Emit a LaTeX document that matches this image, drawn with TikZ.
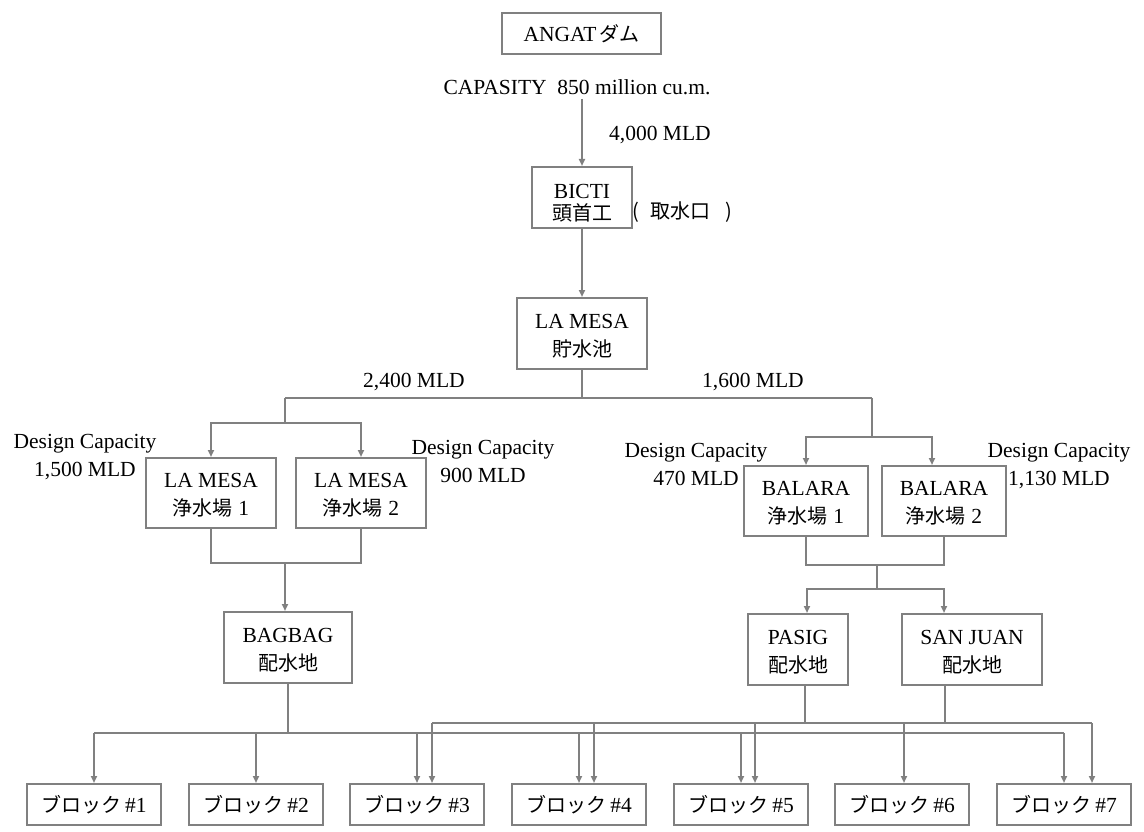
\documentclass[tikz,border=0pt]{standalone}
\usepackage{fontspec}
\setmainfont{Liberation Serif}
\newfontfamily\jpfont{Noto Sans CJK JP}
\newcommand{\jap}[1]{{\jpfont\fontsize{20}{28}\selectfont #1}}
\usetikzlibrary{arrows.meta}
\definecolor{lg}{RGB}{128,128,128}
\tikzset{
  txt/.style={font=\fontsize{21.5}{28}\selectfont, text=black, align=center},
  box/.style={txt, draw=lg, line width=2pt, inner sep=0pt},
  blk/.style={box, minimum width=134pt, minimum height=41pt},
  lbl/.style={txt, inner sep=0pt},
  ln/.style={draw=lg, line width=2pt},
  arr/.style={ln, -{Triangle[length=7pt,width=6pt]}},
}
\begin{document}
\begin{tikzpicture}[x=1pt,y=-1pt]
\useasboundingbox (0,0) rectangle (1144,832);

% ---- nodes
\node[box,minimum width=159pt,minimum height=41pt] (angat) at (581.5,33.5) {ANGAT\kern3pt\jap{ダム}};
\node[lbl] (cap) at (577,87) {CAPASITY\ \ 850 million cu.m.};
\coordinate (capEnd) at (582,99);
\node[lbl] (q4000) at (660,135) {4,000 MLD};
\node[box,minimum width=100pt,minimum height=61pt] (bicti) at (582,197.5) {\rule{0pt}{26pt}BICTI\\[-6pt]\jap{頭首工}};
\node[lbl] (intake) at (682.5,212) {\jap{(}\kern11pt\jap{取水口}\kern15pt\jap{)}};
\node[box,minimum width=130pt,minimum height=71pt] (res) at (582,333.5) {\rule{0pt}{19pt}LA MESA\\\jap{貯水池}};

\node[lbl] (q2400) at (414,382) {2,400 MLD};
\node[lbl] (q1600) at (753,382) {1,600 MLD};

\node[box,minimum width=130pt,minimum height=70pt] (lm1) at (211,493) {\rule{0pt}{19pt}LA MESA\\\jap{浄水場} 1};
\node[box,minimum width=130pt,minimum height=70pt] (lm2) at (361,493) {\rule{0pt}{19pt}LA MESA\\\jap{浄水場} 2};
\node[box,minimum width=124pt,minimum height=70pt] (bal1) at (806,501) {\rule{0pt}{19pt}BALARA\\\jap{浄水場} 1};
\node[box,minimum width=124pt,minimum height=70pt] (bal2) at (944,501) {\rule{0pt}{19pt}BALARA\\\jap{浄水場} 2};

\node[lbl] (dc1) at (85,457.5) {Design Capacity\\1,500 MLD};
\node[lbl] (dc2) at (483,461) {Design Capacity\\900 MLD};
\node[lbl] (dc3) at (696,464.5) {Design Capacity\\470 MLD};
\node[lbl] (dc4) at (1059,466.5) {Design Capacity\\1,130 MLD};

\node[box,minimum width=128pt,minimum height=71pt] (bagbag) at (288,647.5) {\rule{0pt}{19pt}BAGBAG\\\jap{配水地}};
\node[box,minimum width=100pt,minimum height=71pt] (pasig) at (798,649.5) {\rule{0pt}{19pt}PASIG\\\jap{配水地}};
\node[box,minimum width=140pt,minimum height=71pt] (sanjuan) at (972,649.5) {\rule{0pt}{19pt}SAN JUAN\\\jap{配水地}};

\node[blk] (b1) at (94,804.5) {\jap{ブロック}\kern4pt\#1};
\node[blk] (b2) at (256,804.5) {\jap{ブロック}\kern4pt\#2};
\node[blk] (b3) at (417,804.5) {\jap{ブロック}\kern4pt\#3};
\node[blk] (b4) at (579,804.5) {\jap{ブロック}\kern4pt\#4};
\node[blk] (b5) at (741,804.5) {\jap{ブロック}\kern4pt\#5};
\node[blk] (b6) at (902,804.5) {\jap{ブロック}\kern4pt\#6};
\node[blk] (b7) at (1064,804.5) {\jap{ブロック}\kern4pt\#7};

% ---- junction coordinates
\coordinate (hL) at (285,398);
\coordinate (hR) at (872,398);
\coordinate (sL) at (285,423);
\coordinate (sR) at (872,437);
\coordinate (mL) at (285,563);
\coordinate (mR) at (877,565);
\coordinate (nR) at (877,589);
\coordinate (ylow) at (0,733);
\coordinate (yup) at (0,723);
\coordinate (po) at ([xshift=7pt]pasig.south);
\coordinate (so) at ([xshift=-27pt]sanjuan.south);
\coordinate (a3) at ([xshift=15pt]b3.north);
\coordinate (a4) at ([xshift=15pt]b4.north);
\coordinate (a5) at ([xshift=14pt]b5.north);
\coordinate (a6) at ([xshift=2pt]b6.north);
\coordinate (a7) at ([xshift=28pt]b7.north);

% ---- connectors
\draw[arr] (capEnd) -- (bicti.north);
\draw[arr] (bicti.south) -- (res.north);
\draw[ln] (res.south) -- (res.south |- hL);
\draw[ln] (hL) -- (hR);
\draw[ln] (hL) -- (sL);
\draw[arr] (sL) -| (lm1.north);
\draw[arr] (sL) -| (lm2.north);
\draw[ln] (hR) -- (sR);
\draw[arr] (sR) -| (bal1.north);
\draw[arr] (sR) -| ([xshift=-12pt]bal2.north);

\draw[ln] (lm1.south) |- (mL);
\draw[ln] (lm2.south) |- (mL);
\draw[arr] (mL) -- (mL |- bagbag.north);
\draw[ln] (bal1.south) |- (mR);
\draw[ln] (bal2.south) |- (mR);
\draw[ln] (mR) -- (nR);
\draw[arr] (nR) -| ([xshift=9pt]pasig.north);
\draw[arr] (nR) -| ([xshift=-28pt]sanjuan.north);

% distribution from BAGBAG
\draw[ln] (bagbag.south) -- (bagbag.south |- ylow);
\draw[ln] (b1.north |- ylow) -- (b7.north |- ylow);
\foreach \i in {1,2,3,4,5,7} \draw[arr] (b\i.north |- ylow) -- (b\i.north);

% distribution from PASIG / SAN JUAN
\draw[ln] (po) -- (po |- yup);
\draw[ln] (so) -- (so |- yup);
\draw[ln] (a3 |- yup) -- (a7 |- yup);
\foreach \k in {a3,a4,a5,a6,a7} \draw[arr] (\k |- yup) -- (\k);
\end{tikzpicture}
\end{document}
